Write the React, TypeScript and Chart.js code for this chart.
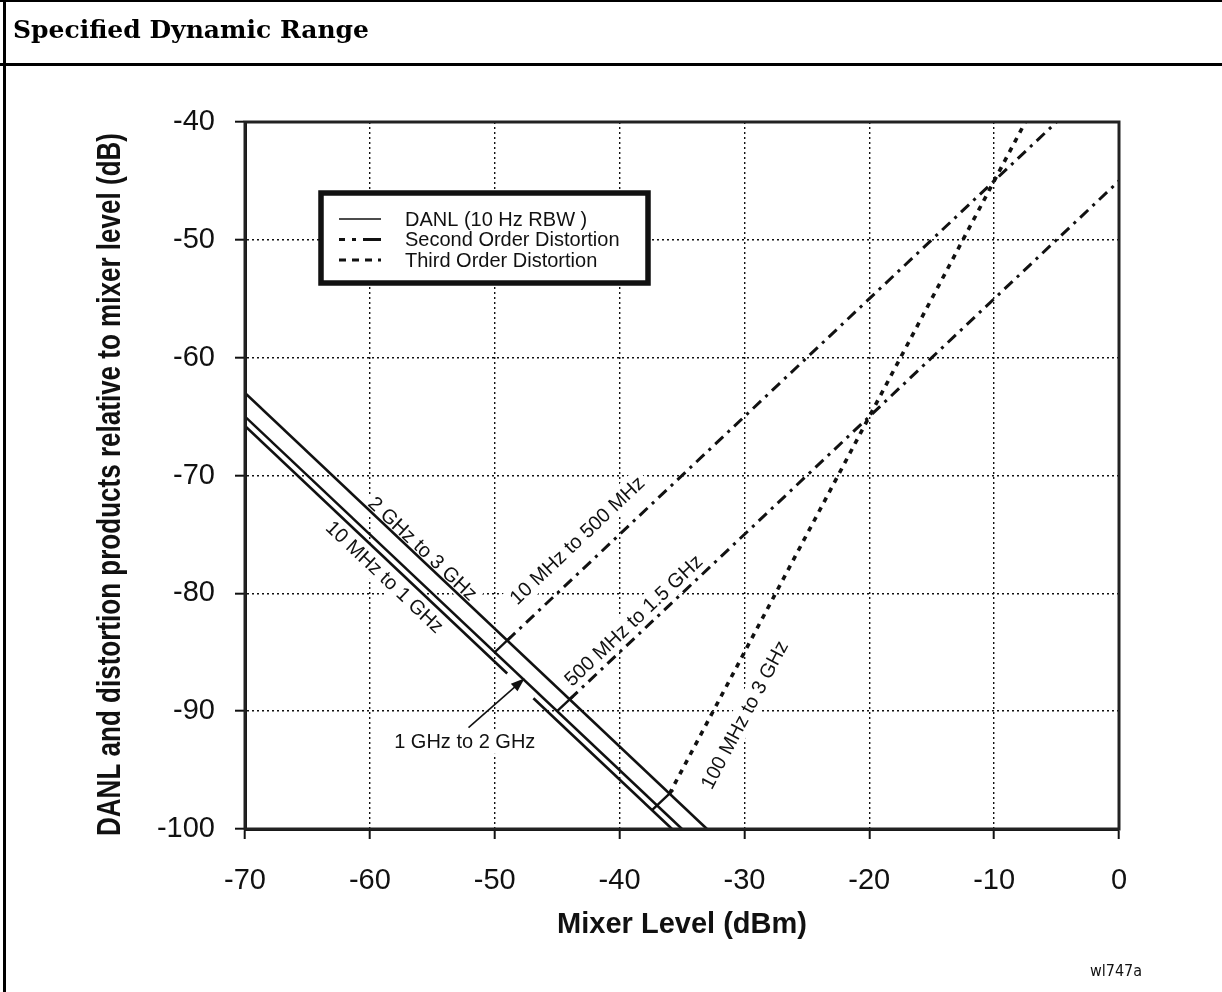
import { useEffect, useRef } from "react";
import { Chart, registerables } from "chart.js";

Chart.register(...registerables);

// Axis ticks
const X_TICKS = [-70, -60, -50, -40, -30, -20, -10, 0];
const Y_TICKS = [-40, -50, -60, -70, -80, -90, -100];

// DANL (10 Hz RBW) in dB relative to mixer level, vs mixer level (dBm)
const DANL_2G_3G = [{ x: -70, y: -63 }, { x: -33, y: -100 }];
const DANL_1G_2G = [{ x: -70, y: -65 }, { x: -35, y: -100 }];
const DANL_10M_1G_A = [{ x: -70, y: -65.8 }, { x: -49, y: -86.8 }];
const DANL_10M_1G_B = [{ x: -46.9, y: -88.9 }, { x: -35.8, y: -100 }];

// Second order distortion
const SOD_10M_500M = [{ x: -49, y: -84 }, { x: -5, y: -40 }];
const SOD_500M_1G5 = [{ x: -44, y: -89 }, { x: 0, y: -45 }];

// Third order distortion
const TOD_100M_3G = [{ x: -36, y: -97 }, { x: -7.5, y: -40 }];

// Short marks where the distortion lines meet the noise floor
const MARK_SOD_10M = [{ x: -48.7, y: -83.7 }, { x: -50, y: -85 }];
const MARK_SOD_500M = [{ x: -43.7, y: -88.7 }, { x: -45, y: -90 }];
const MARK_TOD = [{ x: -35.7, y: -96.7 }, { x: -37.4, y: -98.4 }];

// Titles
const X_TITLE = "Mixer Level (dBm)";
const Y_TITLE = "DANL and distortion products relative to mixer level (dB)";

// Legend entries
const LEGEND_LABELS = ["DANL (10 Hz RBW )", "Second Order Distortion", "Third Order Distortion"];

// In-plot labels (anchor in data units, rotated along a reference line)
const LINE_LABELS = [
  { text: "2 GHz to 3 GHz", x: -55.75, y: -76.2, along: DANL_2G_3G },
  { text: "10 MHz to 1 GHz", x: -58.8, y: -78.6, along: DANL_10M_1G_A },
  { text: "10 MHz to 500 MHz", x: -43.4, y: -75.5, along: SOD_10M_500M },
  { text: "500 MHz to 1.5 GHz", x: -38.9, y: -82.3, along: SOD_500M_1G5 },
  { text: "100 MHz to 3 GHz", x: -30, y: -90.3, along: TOD_100M_3G },
];
const CALLOUT_TEXT = "1 GHz to 2 GHz";
const CALLOUT_AT = { x: -52.4, y: -92.6 };
const CALLOUT_ARROW = [{ x: -52.1, y: -91.4 }, { x: -47.6, y: -87.2 }];

const INK = "#111";
const SANS = '"Liberation Sans", Arial, Helvetica, sans-serif';

const SOD_DASH = [11, 6, 3, 6];
const TOD_DASH = [5, 6];

function line(data: { x: number; y: number }[], dash: number[], width = 2.6) {
  return {
    data,
    showLine: true,
    borderColor: INK,
    backgroundColor: INK,
    borderWidth: width,
    borderDash: dash,
    pointRadius: 0,
    fill: false,
    tension: 0,
  };
}

const annotationPlugin = {
  id: "lineLabels",
  beforeDatasetsDraw(chart: any) {
    const { ctx, scales } = chart;
    const xs = scales.x;
    const ys = scales.y;
    ctx.save();
    ctx.font = `20px ${SANS}`;
    ctx.textAlign = "center";
    ctx.textBaseline = "middle";
    for (const lab of LINE_LABELS) {
      const p0 = lab.along[0];
      const p1 = lab.along[1];
      const dx = xs.getPixelForValue(p1.x) - xs.getPixelForValue(p0.x);
      const dy = ys.getPixelForValue(p1.y) - ys.getPixelForValue(p0.y);
      let ang = Math.atan2(dy, dx);
      if (ang > Math.PI / 2) ang -= Math.PI;
      if (ang < -Math.PI / 2) ang += Math.PI;
      const cx = xs.getPixelForValue(lab.x);
      const cy = ys.getPixelForValue(lab.y);
      ctx.save();
      ctx.translate(cx, cy);
      ctx.rotate(ang);
      const w = ctx.measureText(lab.text).width;
      ctx.fillStyle = "#fff";
      ctx.fillRect(-w / 2 - 4, -12, w + 8, 24);
      ctx.fillStyle = INK;
      ctx.fillText(lab.text, 0, 1);
      ctx.restore();
    }
    // callout text
    const tx = xs.getPixelForValue(CALLOUT_AT.x);
    const ty = ys.getPixelForValue(CALLOUT_AT.y);
    const w = ctx.measureText(CALLOUT_TEXT).width;
    ctx.fillStyle = "#fff";
    ctx.fillRect(tx - w / 2 - 4, ty - 12, w + 8, 24);
    ctx.fillStyle = INK;
    ctx.fillText(CALLOUT_TEXT, tx, ty + 1);
    ctx.restore();
  },
  afterDatasetsDraw(chart: any) {
    const { ctx, scales, chartArea } = chart;
    const xs = scales.x;
    const ys = scales.y;
    ctx.save();
    // callout arrow
    const ax0 = xs.getPixelForValue(CALLOUT_ARROW[0].x);
    const ay0 = ys.getPixelForValue(CALLOUT_ARROW[0].y);
    const ax1 = xs.getPixelForValue(CALLOUT_ARROW[1].x);
    const ay1 = ys.getPixelForValue(CALLOUT_ARROW[1].y);
    const ang = Math.atan2(ay1 - ay0, ax1 - ax0);
    ctx.strokeStyle = INK;
    ctx.fillStyle = INK;
    ctx.lineWidth = 1.6;
    ctx.beginPath();
    ctx.moveTo(ax0, ay0);
    ctx.lineTo(ax1 - 10 * Math.cos(ang), ay1 - 10 * Math.sin(ang));
    ctx.stroke();
    ctx.beginPath();
    ctx.moveTo(ax1, ay1);
    ctx.lineTo(ax1 - 14 * Math.cos(ang) + 5 * Math.sin(ang), ay1 - 14 * Math.sin(ang) - 5 * Math.cos(ang));
    ctx.lineTo(ax1 - 14 * Math.cos(ang) - 5 * Math.sin(ang), ay1 - 14 * Math.sin(ang) + 5 * Math.cos(ang));
    ctx.closePath();
    ctx.fill();

    // legend box
    const lx = chartArea.left + 76;
    const ly = chartArea.top + 71;
    const lw = 327;
    const lh = 90;
    ctx.fillStyle = "#fff";
    ctx.fillRect(lx, ly, lw, lh);
    ctx.strokeStyle = INK;
    ctx.lineWidth = 5.5;
    ctx.strokeRect(lx, ly, lw, lh);
    const dashes = [[], [6, 7, 4, 7, 16, 0], [7, 6]];
    ctx.font = `20px ${SANS}`;
    ctx.textAlign = "left";
    ctx.textBaseline = "middle";
    LEGEND_LABELS.forEach((label, i) => {
      const rowY = ly + 26 + i * 20.5;
      ctx.strokeStyle = INK;
      ctx.lineWidth = i === 0 ? 1.6 : 3;
      ctx.setLineDash(dashes[i]);
      ctx.beginPath();
      ctx.moveTo(lx + 18, rowY);
      ctx.lineTo(lx + 60, rowY);
      ctx.stroke();
      ctx.setLineDash([]);
      ctx.fillStyle = INK;
      ctx.fillText(label, lx + 84, rowY + 1);
    });
    ctx.restore();
  },
  afterDraw(chart: any) {
    const { ctx, chartArea } = chart;
    ctx.save();
    ctx.strokeStyle = "#222";
    ctx.lineWidth = 3;
    ctx.strokeRect(chartArea.left, chartArea.top, chartArea.right - chartArea.left, chartArea.bottom - chartArea.top);

    // condensed vertical axis title
    ctx.fillStyle = INK;
    ctx.font = `bold 34px ${SANS}`;
    ctx.textAlign = "center";
    ctx.textBaseline = "middle";
    const w = ctx.measureText(Y_TITLE).width;
    const squeeze = 703 / w;
    ctx.translate(111, (chartArea.top + chartArea.bottom) / 2 + 9);
    ctx.rotate(-Math.PI / 2);
    ctx.scale(squeeze, 1);
    ctx.fillText(Y_TITLE, 0, 0);
    ctx.restore();
  },
};

const gridOpts = {
  color: INK,
  lineWidth: 1.4,
  tickLength: 10,
  tickColor: INK,
  tickWidth: 2,
  tickBorderDash: [],
};

export default function App() {
  const canvasRef = useRef<HTMLCanvasElement | null>(null);

  useEffect(() => {
    const canvas = canvasRef.current;
    if (!canvas) return;
    const chart = new Chart(canvas, {
      type: "scatter",
      data: {
        datasets: [
          line(DANL_2G_3G, []),
          line(DANL_1G_2G, []),
          line(DANL_10M_1G_A, []),
          line(DANL_10M_1G_B, []),
          line(SOD_10M_500M, SOD_DASH, 3),
          line(SOD_500M_1G5, SOD_DASH, 3),
          line(TOD_100M_3G, TOD_DASH, 3.6),
          line(MARK_SOD_10M, [], 2.4),
          line(MARK_SOD_500M, [], 2.4),
          line(MARK_TOD, [], 2.4),
        ] as any,
      },
      options: {
        animation: false,
        responsive: false,
        maintainAspectRatio: false,
        events: [],
        layout: { padding: { left: 0, top: 122, right: 103, bottom: 0 } },
        plugins: { legend: { display: false }, tooltip: { enabled: false } },
        scales: {
          x: {
            type: "linear",
            min: -70,
            max: 0,
            afterBuildTicks: (axis: any) => {
              axis.ticks = X_TICKS.map((v) => ({ value: v }));
            },
            afterFit: (axis: any) => {
              axis.height = 163;
            },
            ticks: {
              color: INK,
              font: { family: SANS, size: 29 },
              padding: 25,
              callback: (v: any) => String(v),
            },
            grid: gridOpts,
            border: { display: true, color: INK, width: 3, dash: [2, 3] },
            title: {
              display: true,
              text: X_TITLE,
              color: INK,
              font: { family: SANS, size: 29, weight: "bold" },
              padding: { top: 0, bottom: 50 },
            },
          },
          y: {
            type: "linear",
            min: -100,
            max: -40,
            afterBuildTicks: (axis: any) => {
              axis.ticks = Y_TICKS.map((v) => ({ value: v }));
            },
            afterFit: (axis: any) => {
              axis.width = 245;
            },
            ticks: {
              color: INK,
              font: { family: SANS, size: 29 },
              padding: 20,
              callback: (v: any) => String(v),
            },
            grid: gridOpts,
            border: { display: true, color: INK, width: 3, dash: [2, 3] },
            title: { display: false },
          },
        },
      },
      plugins: [annotationPlugin],
    } as any);
    return () => chart.destroy();
  }, []);

  return (
    <div style={{ position: "fixed", left: 0, top: 0, width: 1222, height: 992, background: "#fff", overflow: "hidden" }}>
      <canvas ref={canvasRef} width={1222} height={992} style={{ position: "absolute", left: 0, top: 0, width: 1222, height: 992 }} />
      <div style={{ position: "absolute", left: 0, top: 0, width: 1222, height: 2, background: "#000" }} />
      <div style={{ position: "absolute", left: 3, top: 0, width: 3, height: 992, background: "#000" }} />
      <div style={{ position: "absolute", left: 0, top: 63, width: 1222, height: 3, background: "#000" }} />
      <div
        style={{
          position: "absolute",
          left: 13,
          top: 15,
          font: 'bold 25px "DejaVu Serif", serif',
          color: "#000",
          whiteSpace: "nowrap",
        }}
      >
        Specified Dynamic Range
      </div>
      <div
        style={{
          position: "absolute",
          left: 1090,
          top: 961,
          font: `16px "DejaVu Sans Condensed", ${SANS}`,
          color: INK,
          whiteSpace: "nowrap",
        }}
      >
        wl747a
      </div>
    </div>
  );
}
